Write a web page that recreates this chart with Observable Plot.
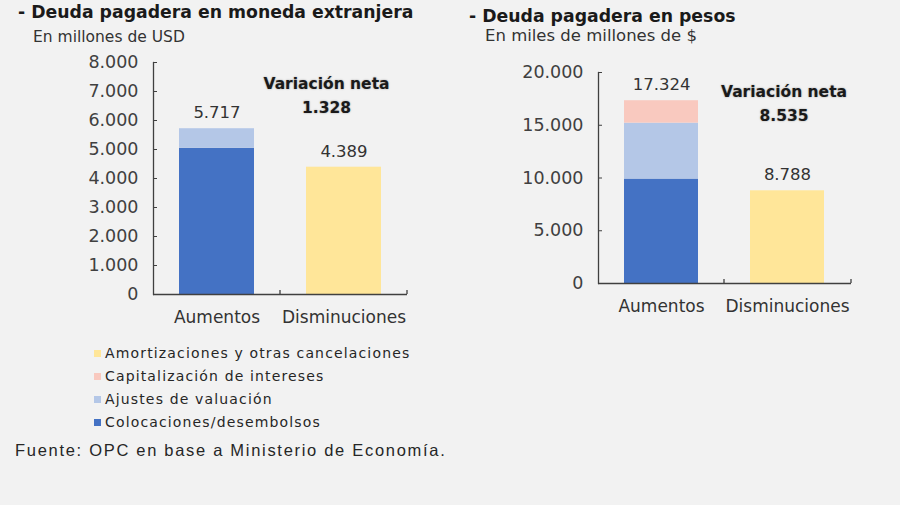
<!DOCTYPE html>
<html>
<head>
<meta charset="utf-8">
<script src="https://cdn.jsdelivr.net/npm/d3@7"></script>
<script src="https://cdn.jsdelivr.net/npm/@observablehq/plot@0.6"></script>
<style>
  html, body { margin: 0; padding: 0; background: #f2f2f2; }
  body { width: 900px; height: 505px; position: relative; overflow: hidden; font-family: "DejaVu Sans", sans-serif; }
  .abs { position: absolute; white-space: nowrap; }
  .title { font-weight: bold; font-size: 17.3px; color: #1a1a1a; line-height: 20px; }
  .sub { color: #333; line-height: 20px; }
  .legend-row { position: absolute; left: 94px; height: 20px; display: flex; align-items: center; font-size: 14px; letter-spacing: 1.15px; color: #262626; }
  .legend-row span.sw { width: 7px; height: 7px; margin-right: 4px; display: inline-block; }
  .source { font-family: "Liberation Sans", Arial, sans-serif; font-size: 16.5px; letter-spacing: 1.7px; color: #262626; line-height: 20px; }
  .plot { position: absolute; }
</style>
</head>
<body>
<div class="abs title" style="left:18px; top:2px;">- Deuda pagadera en moneda extranjera</div>
<div class="abs sub" style="left:33px; top:27px; font-size:15.5px;">En millones de USD</div>
<div class="abs title" style="left:469px; top:6px;">- Deuda pagadera en pesos</div>
<div class="abs sub" style="left:485px; top:26px; font-size:16.5px;">En miles de millones de $</div>
<div id="left" class="plot" style="left:0; top:50px;"></div>
<div id="right" class="plot" style="left:450px; top:50px;"></div>
<div id="legend"></div>
<div class="abs source" style="left:15px; top:440px;">Fuente: OPC en base a Ministerio de Economía.</div>
<script>
// ---- Data ----
const categories = ["Aumentos", "Disminuciones"];
const seriesNames = ["Colocaciones/desembolsos", "Ajustes de valuación", "Capitalización de intereses", "Amortizaciones y otras cancelaciones"];
const seriesColors = ["#4472c4", "#b4c7e7", "#f9c9bf", "#ffe699"];
const legendOrder = ["Amortizaciones y otras cancelaciones", "Capitalización de intereses", "Ajustes de valuación", "Colocaciones/desembolsos"];

// Deuda en moneda extranjera (millones de USD)
const usdAumentos = [5040, 677, 0];      // Colocaciones, Ajustes, Capitalización
const usdDisminuciones = [4389];         // Amortizaciones
const usdNeta = 1328;
const usdTicks = [0, 1000, 2000, 3000, 4000, 5000, 6000, 7000, 8000];

// Deuda en pesos (miles de millones de $)
const arsAumentos = [9900, 5300, 2124];
const arsDisminuciones = [8788];
const arsNeta = 8535;
const arsTicks = [0, 5000, 10000, 15000, 20000];

const fmt = d => d3.format(",")(d).replace(/,/g, ".");

function buildRows(aum, dis) {
  const rows = [];
  aum.forEach((v, i) => rows.push({cat: categories[0], series: seriesNames[i], value: v}));
  dis.forEach(v => rows.push({cat: categories[1], series: seriesNames[3], value: v}));
  return rows;
}

function chart(rows, ticks, neta, opts) {
  const totals = categories.map(c => ({cat: c, total: d3.sum(rows.filter(r => r.cat === c), r => r.value)}));
  const p = Plot.plot({
    width: 450,
    height: opts.height,
    marginLeft: opts.marginLeft,
    marginRight: opts.marginRight,
    marginTop: opts.marginTop,
    marginBottom: opts.marginBottom,
    style: {background: "transparent", fontFamily: "DejaVu Sans, sans-serif", color: "#404040", overflow: "visible"},
    x: {domain: categories, paddingInner: 0.41, paddingOuter: 0.205, label: null},
    y: {domain: [ticks[0], ticks[ticks.length - 1]], label: null},
    color: {domain: seriesNames, range: seriesColors},
    marks: [
      Plot.barY(rows, {x: "cat", y: "value", fill: "series"}),
      Plot.ruleY([0], {stroke: "#404040", strokeWidth: 1.3}),
      Plot.frame({anchor: "left", stroke: "#404040", strokeWidth: 1.3}),
      Plot.axisY({ticks, tickFormat: fmt, tickSize: -4, tickPadding: 19, fontSize: 17.5, label: null, stroke: "#404040", fill: "#404040"}),
      Plot.axisX({tickSize: 0, tickPadding: 16, fontSize: 17, label: null, fill: "#333"}),
      Plot.text(totals, {x: "cat", y: "total", text: d => fmt(d.total), dy: -16, fontSize: 16.5, fill: "#333"}),
      Plot.text([`Variación neta`], {frameAnchor: "top", dx: opts.annDx, dy: opts.annDy, fontSize: 15.5, fontWeight: "bold", fill: "#1a1a1a"}),
      Plot.text([fmt(neta)], {frameAnchor: "top", dx: opts.annDx, dy: opts.annDy + 24, fontSize: 15.5, fontWeight: "bold", fill: "#1a1a1a"})
    ]
  });
  // category-axis boundary ticks (inside), derived from the x and y scales
  const sx = p.scale("x"), sy = p.scale("y");
  const y0 = sy.apply(0);
  const b0 = sx.apply(categories[0]), b1 = sx.apply(categories[1]);
  const mid = (b0 + sx.bandwidth + b1) / 2;
  const ends = [mid, sx.range[1]];
  const svg = d3.select(p);
  ends.forEach(x => svg.append("line").attr("x1", x).attr("x2", x).attr("y1", y0).attr("y2", y0 - 4).attr("stroke", "#404040").attr("stroke-width", 1.3));
  svg.selectAll("text").filter(function () { return this.textContent === "Variación neta" || this.textContent === fmt(neta); })
    .style("text-shadow", "0 0 2px rgba(0,0,0,0.35)");
  return p;
}

document.getElementById("left").append(chart(buildRows(usdAumentos, usdDisminuciones), usdTicks, usdNeta,
  {height: 280, marginLeft: 153, marginRight: 43, marginTop: 12, marginBottom: 36, annDx: 46, annDy: 15}));
document.getElementById("right").append(chart(buildRows(arsAumentos, arsDisminuciones), arsTicks, arsNeta,
  {height: 270, marginLeft: 148, marginRight: 49, marginTop: 22, marginBottom: 37, annDx: 59, annDy: 13}));

// Legend
const legend = document.getElementById("legend");
legendOrder.forEach((name, i) => {
  const row = document.createElement("div");
  row.className = "legend-row";
  row.style.top = (343 + i * 23) + "px";
  const sw = document.createElement("span");
  sw.className = "sw";
  sw.style.background = seriesColors[seriesNames.indexOf(name)];
  row.append(sw, document.createTextNode(name));
  legend.append(row);
});
</script>
</body>
</html>
